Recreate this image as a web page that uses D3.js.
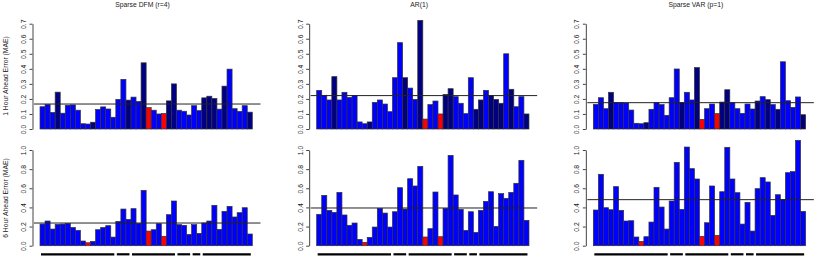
<!DOCTYPE html>
<html>
<head>
<meta charset="utf-8">
<script src="https://cdn.jsdelivr.net/npm/d3@7"></script>
<style>
  body { margin: 0; background: #fff; }
  svg { display: block; }
  text { font-family: "Liberation Sans", Arial, sans-serif; fill: #222; }
</style>
</head>
<body>
<svg id="chart" width="830" height="268"></svg>
<script>
// panel titles and row labels
const titles = ["Sparse DFM (r=4)", "AR(1)", "Sparse VAR (p=1)"];
const rowLabels = ["1 Hour Ahead Error (MAE)", "6 Hour Ahead Error (MAE)"];

// 42 series, grouped (black bars under bottom row)
const series = d3.range(1, 43);
const groupSizes = [15, 3, 9, 3, 2, 10];

const topTicks = [0, 0.1, 0.2, 0.3, 0.4, 0.5, 0.6, 0.7];
const bottomTicks = [0, 0.2, 0.4, 0.6, 0.8, 1.0];

// 1 hour ahead MAE
const dfm1 = [0.148, 0.162, 0.11, 0.245, 0.105, 0.158, 0.16, 0.125, 0.035, 0.033, 0.045, 0.13, 0.147, 0.133, 0.078,
  0.197, 0.33, 0.192, 0.212, 0.183, 0.44, 0.142, 0.125, 0.10, 0.103, 0.187, 0.30, 0.125, 0.118, 0.093,
  0.155, 0.122, 0.207, 0.218, 0.203, 0.132, 0.285, 0.398, 0.135, 0.117, 0.155, 0.112];
const ar1 = [0.257, 0.224, 0.193, 0.348, 0.193, 0.244, 0.21, 0.222, 0.047, 0.035, 0.047, 0.177, 0.193, 0.166, 0.115,
  0.341, 0.574, 0.341, 0.272, 0.197, 0.722, 0.066, 0.162, 0.186, 0.10, 0.23, 0.268, 0.215, 0.171, 0.102,
  0.341, 0.131, 0.193, 0.257, 0.222, 0.197, 0.171, 0.50, 0.264, 0.148, 0.215, 0.10];
const var1 = [0.164, 0.208, 0.135, 0.244, 0.177, 0.175, 0.173, 0.126, 0.038, 0.035, 0.042, 0.131, 0.175, 0.162, 0.091,
  0.208, 0.399, 0.175, 0.244, 0.193, 0.408, 0.064, 0.135, 0.166, 0.102, 0.179, 0.261, 0.175, 0.135, 0.104,
  0.166, 0.133, 0.186, 0.215, 0.195, 0.162, 0.131, 0.447, 0.188, 0.144, 0.213, 0.095];

// 6 hour ahead MAE
const dfm6 = [0.226, 0.258, 0.174, 0.223, 0.226, 0.233, 0.19, 0.16, 0.049, 0.031, 0.045, 0.167, 0.19, 0.209, 0.09,
  0.254, 0.383, 0.275, 0.387, 0.233, 0.578, 0.153, 0.167, 0.23, 0.098, 0.324, 0.467, 0.22, 0.213, 0.118,
  0.22, 0.129, 0.237, 0.258, 0.422, 0.171, 0.359, 0.411, 0.30, 0.345, 0.397, 0.122];
const ar6 = [0.328, 0.526, 0.369, 0.348, 0.557, 0.321, 0.213, 0.237, 0.066, 0.035, 0.087, 0.195, 0.39, 0.341, 0.195,
  0.355, 0.606, 0.383, 0.70, 0.624, 0.829, 0.091, 0.178, 0.561, 0.094, 0.39, 0.944, 0.53, 0.38, 0.16,
  0.355, 0.139, 0.369, 0.463, 0.564, 0.202, 0.544, 0.495, 0.557, 0.652, 0.892, 0.265];
const var6 = [0.373, 0.746, 0.397, 0.376, 0.617, 0.369, 0.258, 0.261, 0.091, 0.045, 0.094, 0.247, 0.61, 0.404, 0.174,
  0.467, 0.871, 0.38, 1.031, 0.805, 0.697, 0.098, 0.24, 0.624, 0.108, 0.564, 1.028, 0.697, 0.554, 0.226,
  0.453, 0.153, 0.596, 0.711, 0.666, 0.317, 0.533, 0.484, 0.763, 0.774, 1.101, 0.359];

// reference (horizontal) lines
const meanTop = [0.166, 0.222, 0.175];
const meanBottom = [0.237, 0.394, 0.481];

// highlighted series
const redTop = [22, 25];
const redBottom = [10, 22, 25];
const darkTop = [
  [4, 11, 18, 21, 26, 27, 33, 34, 35, 37, 42],
  [4, 11, 18, 21, 26, 27, 32, 33, 35, 36, 37, 39, 42],
  [4, 11, 18, 21, 26, 27, 33, 35, 37, 42]
];

const rows = [
  { values: [dfm1, ar1, var1], means: meanTop, ticks: topTicks, max: 0.7, y0: 129, y1: 23.7,
    red: redTop, dark: darkTop },
  { values: [dfm6, ar6, var6], means: meanBottom, ticks: bottomTicks, max: 1.0, y0: 245.7, y1: 150,
    red: redBottom, dark: [[], [], []] }
];

const svg = d3.select("#chart");
const panelW = 830 / 3;

rows.forEach((row, r) => {
  row.values.forEach((vals, c) => {
    const ox = c * panelW;
    const x = d3.scaleBand().domain(series).range([ox + 40, ox + 252.3]).padding(0);
    const y = d3.scaleLinear().domain([0, row.max]).range([row.y0, row.y1]);
    const g = svg.append("g");

    // bars
    g.selectAll("rect")
      .data(series)
      .join("rect")
      .attr("x", d => x(d))
      .attr("y", d => y(vals[d - 1]))
      .attr("width", x.bandwidth())
      .attr("height", d => y(0) - y(vals[d - 1]))
      .attr("fill", d => row.red.includes(d) ? "#ff0000" : (row.dark[c].includes(d) ? "#000080" : "#0000ff"))
      .attr("stroke", "#333")
      .attr("stroke-width", 0.7);

    // y axis
    const ax = g.append("g")
      .attr("transform", `translate(${ox + 32.5},0)`)
      .call(d3.axisLeft(y).tickValues(row.ticks).tickSize(3).tickSizeOuter(0).tickFormat(d3.format(".1f")));
    ax.select(".domain").attr("stroke", "#444");
    ax.selectAll(".tick line").attr("stroke", "#444");
    ax.selectAll(".tick text")
      .attr("x", 0).attr("dy", 0)
      .attr("text-anchor", "middle")
      .attr("transform", "translate(-6.5,0) rotate(-90)")
      .style("font-size", "6.8px")
      .style("font-family", "'Liberation Sans', Arial, sans-serif")
      .attr("fill", "#333");

    // horizontal reference line
    g.append("line")
      .attr("x1", ox + 34).attr("x2", ox + 260.5)
      .attr("y1", y(row.means[c])).attr("y2", y(row.means[c]))
      .attr("stroke", "#222").attr("stroke-width", 1);

    if (r === 0) {
      g.append("text")
        .attr("x", ox + 142.5).attr("y", 7)
        .attr("text-anchor", "middle")
        .style("font-size", "6.8px")
        .text(titles[c]);
    }

    // group markers under the bottom row
    if (r === 1) {
      let start = 1;
      groupSizes.forEach(n => {
        const end = start + n - 1;
        g.append("line")
          .attr("x1", x(start) + 1).attr("x2", x(end) + x.bandwidth() - 1.5)
          .attr("y1", 254.3).attr("y2", 254.3)
          .attr("stroke", "#000").attr("stroke-width", 2.2);
        start = end + 1;
      });
    }
  });

  // row label
  svg.append("text")
    .attr("transform", `translate(7.5,${r === 0 ? 76 : 198}) rotate(-90)`)
    .attr("text-anchor", "middle")
    .style("font-size", "6.8px")
    .text(rowLabels[r]);
});
</script>
</body>
</html>
